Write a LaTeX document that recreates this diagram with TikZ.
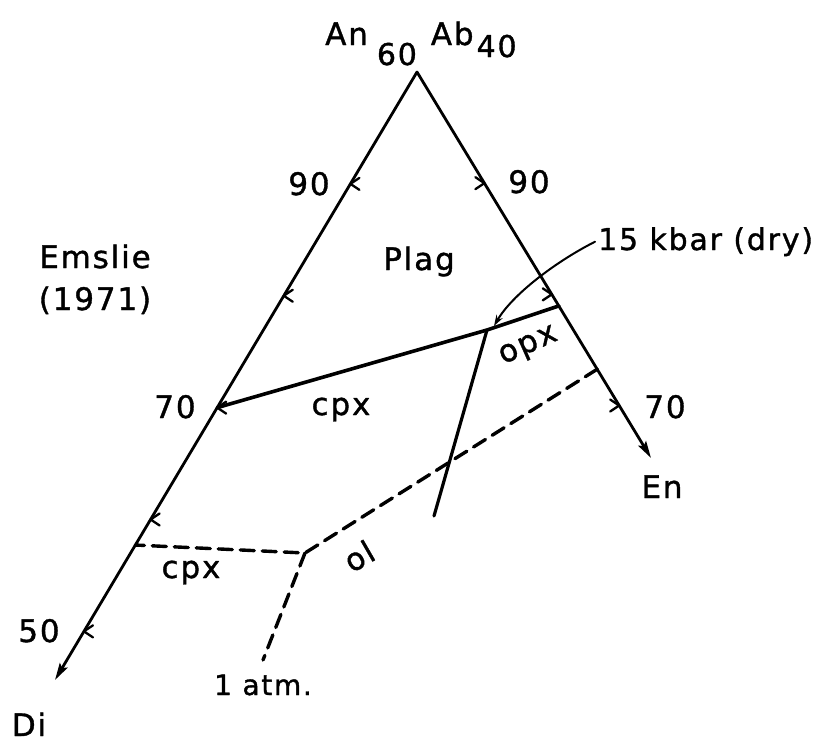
\documentclass[tikz,border=0pt]{standalone}
\usepackage{fontspec}
\newfontfamily\leroy[LetterSpace=6, FakeBold=1.2]{DejaVu Sans}
\usetikzlibrary{arrows.meta,calc}

\begin{document}
\begin{tikzpicture}[x=1pt, y=-1pt, line cap=round, line join=round,
    edge/.style={line width=2.8pt},
    barb/.style={line width=2.3pt},
    dashline/.style={line width=3.4pt, dash pattern=on 14pt off 8pt},
    lbl/.style={anchor=base, inner sep=0pt, font=\leroy\fontsize{31}{37}\selectfont},
    sml/.style={anchor=base, inner sep=0pt, font=\leroy\fontsize{28}{34}\selectfont}]

  \path[use as bounding box] (0,0) rectangle (822,742);

  % ── 三角形：顶点 An60Ab40，两端 Di / En ──
  \coordinate (apex) at (417,72);
  \coordinate (di)   at (55,680);
  \coordinate (en)   at (651,458);

  \draw[edge, -{Stealth[length=17pt, width=9pt, inset=3pt]}] (apex) -- (di);
  \draw[edge, -{Stealth[length=17pt, width=9pt, inset=3pt]}] (apex) -- (en);

  % ── 刻度（每 10%）──
  \foreach \t in {0.184,0.368,0.552,0.736,0.92}
     \draw[barb] ($(apex)!\t!(di)$) ++(9,-6) -- ++(-9,6) -- ++(9,6);
  \foreach \t in {0.288,0.576,0.864}
     \draw[barb] ($(apex)!\t!(en)$) ++(-9,-6) -- ++(9,6) -- ++(-9,6);

  % ── 15 kbar 界线：cpx / opx ──
  \coordinate (cpxL) at ($(apex)!0.552!(di)$);
  \coordinate (jct)  at (487,330);
  \coordinate (opxR) at ($(apex)!0.606!(en)$);
  \coordinate (low)  at (434,516);
  \draw[line width=3.6pt] (cpxL) -- (jct) -- (opxR);
  \draw[line width=3.2pt] (jct) -- (low);

  % ── 1 atm 界线（虚线）──
  \coordinate (dR) at ($(apex)!0.77!(en)$);
  \coordinate (dJ) at (305,553);
  \coordinate (dL) at ($(apex)!0.778!(di)$);
  \coordinate (dB) at (263,660);
  \draw[dashline] (dR) -- (dJ) -- (dL);
  \draw[dashline] (dJ) -- (dB);

  % ── 标签 ──
  \node[lbl, anchor=base west] (top) at (325,45)
       {An\hspace{9pt}\raisebox{-20pt}{\fontsize{30}{35}\selectfont 60}\hspace{14pt}Ab\hspace{3pt}\raisebox{-12pt}{\fontsize{30}{35}\selectfont 40}};
  \node[lbl] (l90)    at (309,195) {90};
  \node[lbl] (r90)    at (529,193) {90};
  \node[lbl] (plag)   at (419,270) {Plag};
  \node[lbl] (emslie) at (95,268)  {Emslie};
  \node[lbl] (year)   at (95,310)  {(1971)};
  \node[lbl] (l70)    at (175,418) {70};
  \node[lbl] (cpxA)   at (341,415) {cpx};
  \node[lbl, anchor=center, rotate=24] (opx) at (529,347) {opx};
  \node[lbl, anchor=base west, font=\leroy\fontsize{30}{36}\selectfont] (kbar) at (598,250) {15 kbar (dry)};
  \node[lbl] (r70)    at (665,418) {70};
  \node[lbl] (enlbl)  at (662,498) {En};
  \node[lbl] (cpxB)   at (191,578) {cpx};
  \node[lbl, anchor=center, rotate=30] (ol) at (359,556) {ol};
  \node[sml] (atm)    at (263,695) {1 atm.};
  \node[lbl] (l50)    at (39,642)  {50};
  \node[lbl] (dilbl)  at (29,736)  {Di};

  % ── 指向 15 kbar 界线的弯箭头 ──
  \coordinate (tip) at (494,326);
  \draw[line width=2pt, -{Stealth[length=11pt, width=7pt]}]
        ([xshift=-3pt]kbar.west) .. controls (555,262) and (512,295) .. (tip);
\end{tikzpicture}
\end{document}
